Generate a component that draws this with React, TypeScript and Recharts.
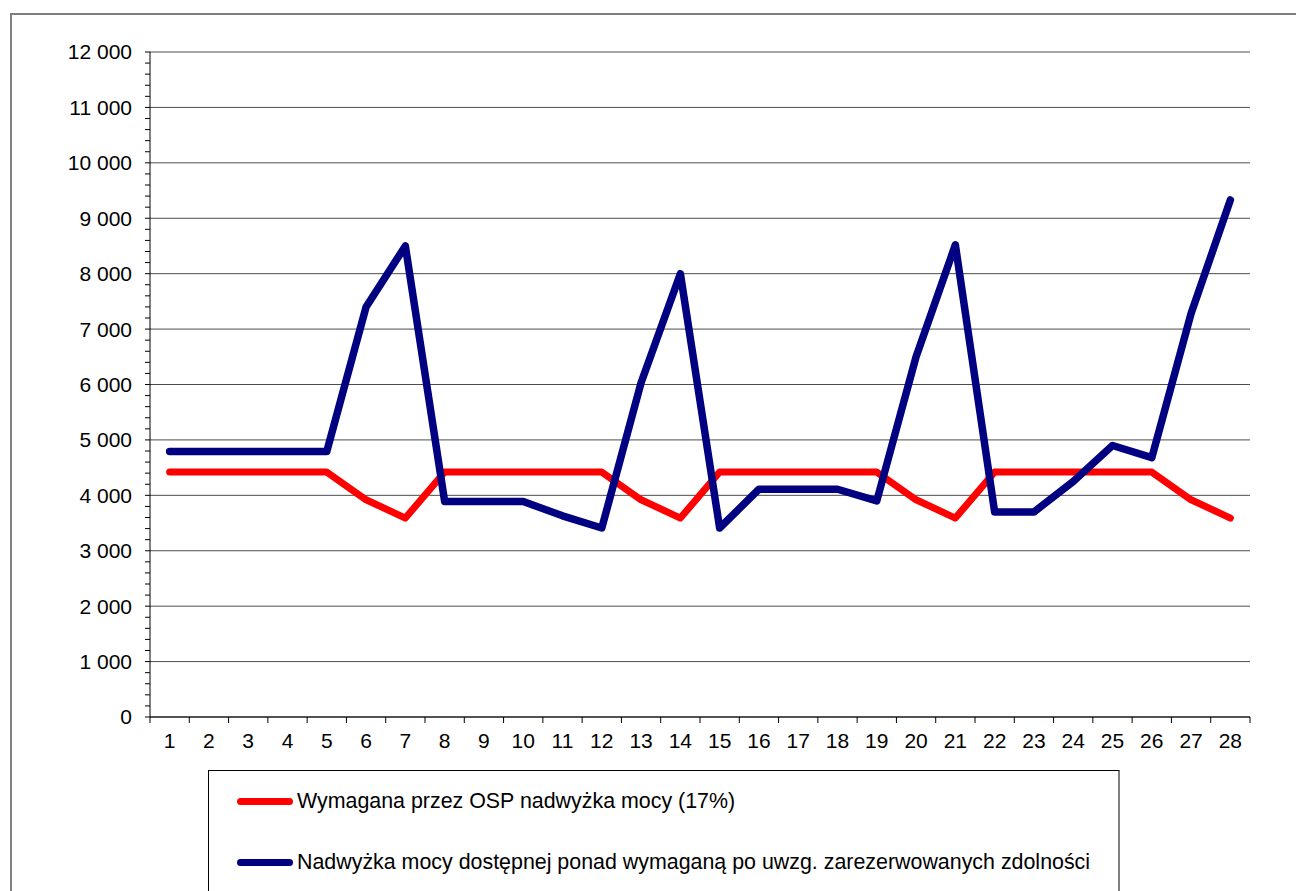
import React from "react";
import { LineChart, Line, XAxis, YAxis, CartesianGrid } from "recharts";

// days of the month on the category axis
const days = [
  1, 2, 3, 4, 5, 6, 7, 8, 9, 10, 11, 12, 13, 14, 15, 16, 17, 18, 19, 20, 21,
  22, 23, 24, 25, 26, 27, 28,
];

// Wymagana przez OSP nadwyżka mocy (17%)
const required = [
  4420, 4420, 4420, 4420, 4420, 3920, 3590, 4420, 4420, 4420, 4420, 4420, 3920,
  3590, 4420, 4420, 4420, 4420, 4420, 3920, 3590, 4420, 4420, 4420, 4420, 4420,
  3920, 3590,
];

// Nadwyżka mocy dostępnej ponad wymaganą
const available = [
  4790, 4790, 4790, 4790, 4790, 7400, 8500, 3890, 3890, 3890, 3630, 3410, 6030,
  8000, 3410, 4110, 4110, 4110, 3900, 6500, 8520, 3700, 3700, 4250, 4900, 4680,
  7280, 9330,
];

const seriesNames = [
  "Wymagana przez OSP nadwyżka mocy (17%)",
  "Nadwyżka mocy dostępnej ponad wymaganą po uwzg. zarezerwowanych zdolności",
];
const seriesColors = ["#FF0000", "#000080"];

const yMajorTicks = [
  0, 1000, 2000, 3000, 4000, 5000, 6000, 7000, 8000, 9000, 10000, 11000, 12000,
];
const yMinorStep = 200;
const yAllTicks = Array.from(
  { length: 12000 / yMinorStep + 1 },
  (_, i) => i * yMinorStep
);
// label at each day, tick mark between days
const xTicks = [0.5, ...days.flatMap((d) => [d, d + 0.5])];

const data = days.map((d, i) => ({
  day: d,
  required: required[i],
  available: available[i],
}));

const FONT = "Arial, 'Liberation Sans', sans-serif";

const fmt = (v: number) =>
  String(v).replace(/\B(?=(\d{3})+(?!\d))/g, " ");

const YTick = (props: any) => {
  const { x, y, payload } = props;
  if (payload.value % 1000 !== 0) return null;
  return (
    <text
      x={x}
      y={y}
      dy="0.355em"
      textAnchor="end"
      fill="#000"
      fontSize={21}
      fontFamily={FONT}
    >
      {fmt(payload.value)}
    </text>
  );
};

const XTick = (props: any) => {
  const { x, y, payload } = props;
  if (Number.isInteger(payload.value)) {
    return (
      <text
        x={x}
        y={y}
        dy="0.71em"
        textAnchor="middle"
        fill="#000"
        fontSize={21}
        fontFamily={FONT}
      >
        {payload.value}
      </text>
    );
  }
  return <line x1={x} x2={x} y1={y - 16} y2={y - 10} stroke="#000" />;
};

const App = () => {
  return (
    <div
      style={{
        position: "fixed",
        left: 0,
        top: 0,
        width: 1296,
        height: 891,
        overflow: "hidden",
        background: "#fff",
        fontFamily: FONT,
      }}
    >
      <div
        style={{
          position: "absolute",
          left: 10,
          top: 13,
          width: 1400,
          height: 1000,
          borderLeft: "2px solid #7f7f7f",
          borderTop: "2px solid #7f7f7f",
        }}
      />
      <div style={{ position: "absolute", left: 0, top: 0 }}>
        <LineChart
          width={1296}
          height={760}
          data={data}
          margin={{ top: 52, right: 46, bottom: 0, left: 0 }}
        >
          <CartesianGrid
            vertical={false}
            horizontalValues={yMajorTicks}
            stroke="#4d4d4d"
          />
          <XAxis
            dataKey="day"
            type="number"
            domain={[0.5, 28.5]}
            ticks={xTicks}
            interval={0}
            tick={<XTick />}
            tickLine={false}
            tickSize={6}
            tickMargin={10}
            height={43}
            axisLine={{ stroke: "#000" }}
          />
          <YAxis
            type="number"
            domain={[0, 12000]}
            ticks={yAllTicks}
            interval={0}
            width={150}
            tick={<YTick />}
            tickSize={5}
            tickMargin={13}
            tickLine={{ stroke: "#000" }}
            axisLine={{ stroke: "#000" }}
          />
          <Line
            type="linear"
            dataKey="required"
            name={seriesNames[0]}
            stroke={seriesColors[0]}
            strokeWidth={7}
            strokeLinecap="round"
            strokeLinejoin="round"
            dot={false}
            isAnimationActive={false}
          />
          <Line
            type="linear"
            dataKey="available"
            name={seriesNames[1]}
            stroke={seriesColors[1]}
            strokeWidth={7.5}
            strokeLinecap="round"
            strokeLinejoin="round"
            dot={false}
            isAnimationActive={false}
          />
        </LineChart>
      </div>
      <div
        style={{
          position: "absolute",
          left: 208,
          top: 770,
          width: 909,
          height: 300,
          borderLeft: "1px solid #000",
          borderTop: "1px solid #000",
          borderRight: "2px solid #7f7f7f",
        }}
      >
        {seriesNames.map((name, i) => (
          <div
            key={name}
            style={{
              position: "absolute",
              left: 28,
              top: 15 + i * 61,
              height: 30,
              display: "flex",
              alignItems: "center",
              whiteSpace: "nowrap",
              fontSize: 21.4,
              color: "#000",
            }}
          >
            <span
              style={{
                display: "inline-block",
                width: 56,
                height: 7,
                borderRadius: 4,
                background: seriesColors[i],
                marginRight: 4,
              }}
            />
            {name}
          </div>
        ))}
      </div>
    </div>
  );
};

export default App;
